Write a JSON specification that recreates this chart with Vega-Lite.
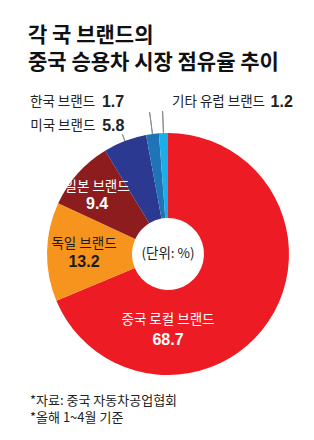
{
  "$schema": "https://vega.github.io/schema/vega-lite/v6.json",
  "background": "#ffffff",
  "padding": {"left": 28, "top": 24, "right": 10, "bottom": 10},
  "config": {"view": {"stroke": null}, "font": "Noto Sans CJK KR"},
  "title": {
    "text": ["각 국 브랜드의", "중국 승용차 시장 점유율 추이"],
    "anchor": "start", "frame": "group", "dx": -20, "offset": 21,
    "fontSize": 21, "fontWeight": "bold", "color": "#111111", "lineHeight": 27,
    "font": "Noto Sans CJK KR"
  },
  "vconcat": [
    {
      "width": 240,
      "height": 244,
      "title": {
        "text": ["*자료: 중국 자동차공업협회", "*올해 1~4월 기준"],
        "orient": "bottom", "anchor": "start", "frame": "group", "dx": -18, "offset": 19,
        "fontSize": 13, "fontWeight": "normal", "color": "#222222", "lineHeight": 16.5,
        "font": "Noto Sans CJK KR"
      },
      "data": {
        "values": [
          {"brand": "중국 로컬 브랜드", "value": 68.7, "order": 1},
          {"brand": "독일 브랜드", "value": 13.2, "order": 2},
          {"brand": "일본 브랜드", "value": 9.4, "order": 3},
          {"brand": "미국 브랜드", "value": 5.8, "order": 4},
          {"brand": "한국 브랜드", "value": 1.7, "order": 5},
          {"brand": "기타 유럽 브랜드", "value": 1.2, "order": 6}
        ]
      },
      "transform": [
        {"stack": "value", "groupby": [], "sort": [{"field": "order", "order": "ascending"}], "as": ["v0", "v1"]}
      ],
      "layer": [
        {
          "mark": {"type": "arc", "radius": 121, "radius2": 36},
          "encoding": {
            "theta": {"field": "v0", "type": "quantitative", "stack": null, "scale": {"domain": [0, 100]}},
            "theta2": {"field": "v1"},
            "color": {
              "field": "brand", "type": "nominal", "legend": null,
              "scale": {
                "domain": ["중국 로컬 브랜드", "독일 브랜드", "일본 브랜드", "미국 브랜드", "한국 브랜드", "기타 유럽 브랜드"],
                "range": ["#ED1C24", "#F7941D", "#8C1C1D", "#2C3990", "#1F74B8", "#1BAEE8"]
              }
            }
          }
        },
        {
          "transform": [{"filter": "datum.order >= 5"}],
          "mark": {"type": "arc", "radius": 143, "radius2": 121, "padAngle": 1.5, "filled": false, "strokeWidth": 1, "stroke": "#8c8c8c"},
          "encoding": {
            "theta": {"field": "v0", "type": "quantitative", "stack": null},
            "theta2": {"field": "v1"}
          }
        },
        {
          "transform": [{"filter": "datum.order == 4"}],
          "mark": {"type": "arc", "radius": 128, "radius2": 121, "padAngle": 1.5, "filled": false, "strokeWidth": 1, "stroke": "#8c8c8c"},
          "encoding": {
            "theta": {"field": "v0", "type": "quantitative", "stack": null},
            "theta2": {"field": "v1"}
          }
        },
        {
          "data": {"values": [{"note": "(단위: %)"}]},
          "mark": {"type": "text", "fontSize": 13.5, "color": "#222222"},
          "encoding": {"text": {"field": "note"}}
        },
        {
          "transform": [{"filter": "datum.order == 1"}],
          "mark": {"type": "text", "theta": 3.14159, "radius": 66, "fontSize": 13.5, "color": "#ffffff"},
          "encoding": {"text": {"field": "brand"}}
        },
        {
          "transform": [{"filter": "datum.order == 1"}],
          "mark": {"type": "text", "theta": 3.14159, "radius": 86, "fontSize": 16, "fontWeight": "bold", "font": "Liberation Sans", "color": "#ffffff"},
          "encoding": {"text": {"field": "value", "type": "quantitative", "format": ".1f"}}
        },
        {
          "mark": {"type": "text", "radius": 84, "dy": -8.5, "fontSize": 13.5, "color": "#1a1a1a"},
          "encoding": {
            "theta": {"field": "value", "type": "quantitative", "stack": true},
            "order": {"field": "order", "type": "quantitative"},
            "detail": {"field": "brand"},
            "text": {"condition": {"test": "datum.order == 2", "field": "brand"}, "value": ""}
          }
        },
        {
          "mark": {"type": "text", "radius": 84, "dy": 9.5, "fontSize": 16, "fontWeight": "bold", "font": "Liberation Sans", "color": "#1a1a1a"},
          "encoding": {
            "theta": {"field": "value", "type": "quantitative", "stack": true},
            "order": {"field": "order", "type": "quantitative"},
            "detail": {"field": "brand"},
            "text": {"condition": {"test": "datum.order == 2", "field": "value", "type": "quantitative", "format": ".1f"}, "value": ""}
          }
        },
        {
          "mark": {"type": "text", "radius": 95, "dy": -3.5, "fontSize": 13.5, "color": "#ffffff"},
          "encoding": {
            "theta": {"field": "value", "type": "quantitative", "stack": true},
            "order": {"field": "order", "type": "quantitative"},
            "detail": {"field": "brand"},
            "text": {"condition": {"test": "datum.order == 3", "field": "brand"}, "value": ""}
          }
        },
        {
          "mark": {"type": "text", "radius": 95, "dy": 13.5, "fontSize": 16, "fontWeight": "bold", "font": "Liberation Sans", "color": "#ffffff"},
          "encoding": {
            "theta": {"field": "value", "type": "quantitative", "stack": true},
            "order": {"field": "order", "type": "quantitative"},
            "detail": {"field": "brand"},
            "text": {"condition": {"test": "datum.order == 3", "field": "value", "type": "quantitative", "format": ".1f"}, "value": ""}
          }
        },
        {
          "transform": [{"filter": "datum.order == 5"}],
          "mark": {"type": "text", "radius": 152, "align": "left", "dx": -110.5, "dy": -2.5, "fontSize": 13.5, "color": "#222222"},
          "encoding": {
            "theta": {"field": "v0", "type": "quantitative", "stack": null},
            "text": {"field": "brand"}
          }
        },
        {
          "transform": [{"filter": "datum.order == 5"}],
          "mark": {"type": "text", "radius": 152, "align": "left", "dx": -38.5, "dy": -2.5, "fontSize": 16, "fontWeight": "bold", "font": "Liberation Sans", "color": "#222222"},
          "encoding": {
            "theta": {"field": "v0", "type": "quantitative", "stack": null},
            "text": {"field": "value", "type": "quantitative", "format": ".1f"}
          }
        },
        {
          "transform": [{"filter": "datum.order == 4"}],
          "mark": {"type": "text", "radius": 140, "align": "left", "dx": -65, "dy": -8.5, "fontSize": 13.5, "color": "#222222"},
          "encoding": {
            "theta": {"field": "v0", "type": "quantitative", "stack": null},
            "text": {"field": "brand"}
          }
        },
        {
          "transform": [{"filter": "datum.order == 4"}],
          "mark": {"type": "text", "radius": 140, "align": "left", "dx": 7, "dy": -8.5, "fontSize": 16, "fontWeight": "bold", "font": "Liberation Sans", "color": "#222222"},
          "encoding": {
            "theta": {"field": "v0", "type": "quantitative", "stack": null},
            "text": {"field": "value", "type": "quantitative", "format": ".1f"}
          }
        },
        {
          "transform": [{"filter": "datum.order == 6"}],
          "mark": {"type": "text", "radius": 152, "align": "left", "dx": 15.5, "dy": -0.5, "fontSize": 13.5, "color": "#222222"},
          "encoding": {
            "theta": {"field": "v0", "type": "quantitative", "stack": null},
            "text": {"field": "brand"}
          }
        },
        {
          "transform": [{"filter": "datum.order == 6"}],
          "mark": {"type": "text", "radius": 152, "align": "left", "dx": 114, "dy": -0.5, "fontSize": 16, "fontWeight": "bold", "font": "Liberation Sans", "color": "#222222"},
          "encoding": {
            "theta": {"field": "v0", "type": "quantitative", "stack": null},
            "text": {"field": "value", "type": "quantitative", "format": ".1f"}
          }
        }
      ]
    }
  ]
}
